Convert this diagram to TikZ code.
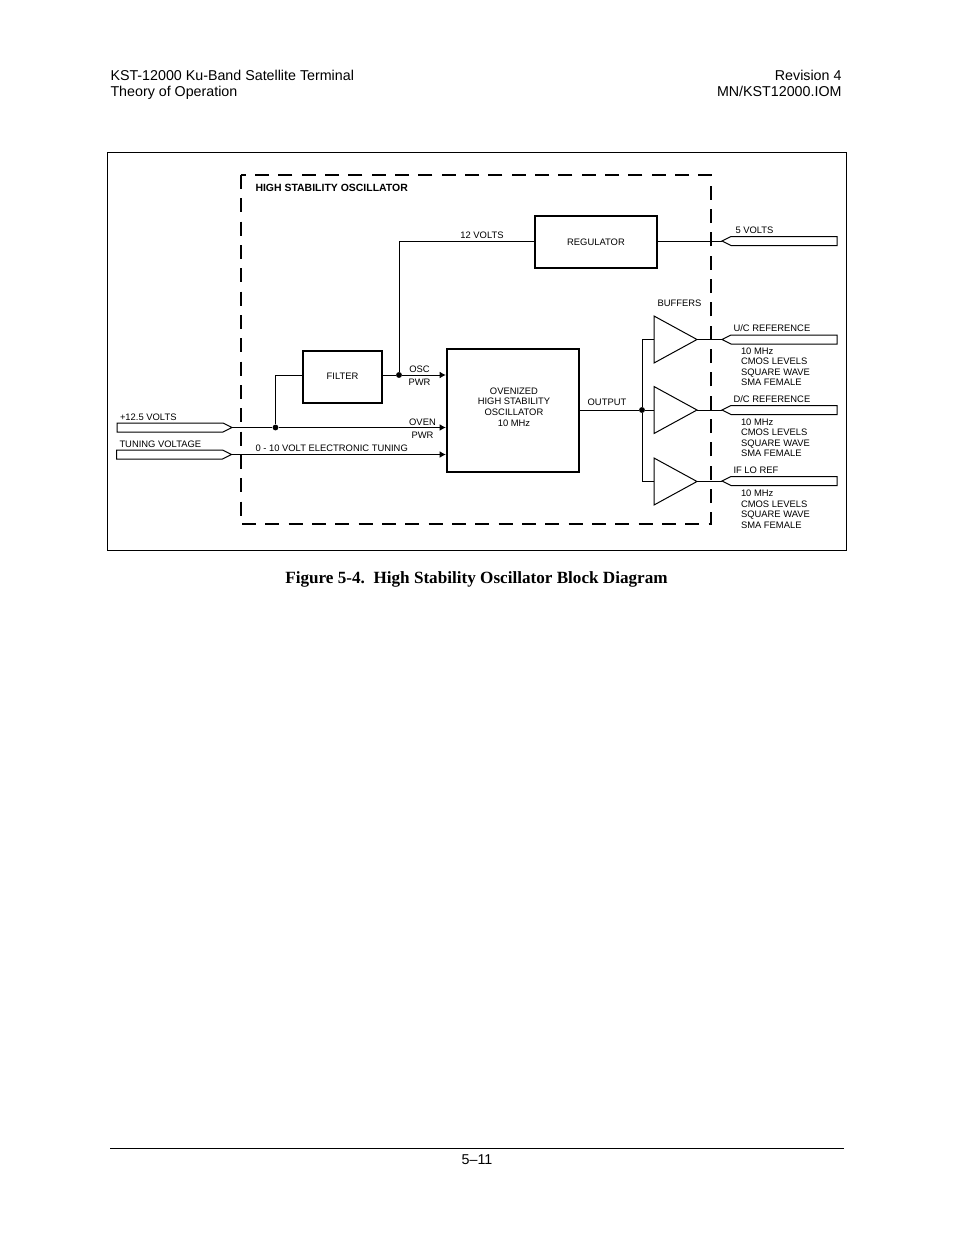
\documentclass[tikz,border=0pt]{standalone}
\usepackage{fontspec}
\setmainfont{Liberation Sans}
\newfontfamily\captionfont{Liberation Serif}
\usetikzlibrary{arrows.meta,shapes.geometric,shapes.symbols}

\tikzset{
  small text/.style={font=\fontsize{7.05}{7.9}\selectfont,inner sep=0pt,align=left},
  page text/.style={font=\fontsize{10.7}{12}\selectfont,inner sep=0pt},
  block/.style={draw,line width=1.5pt,minimum width=#1,inner sep=0pt,font=\fontsize{7.05}{7.9}\selectfont,align=center},
  port/.style={draw,shape=signal,signal to=#1,signal pointer angle=53,minimum width=86.25pt,
    minimum height=6.75pt,inner sep=0pt,outer sep=0pt,line width=0.75pt},
  buffer/.style={draw,shape=isosceles triangle,isosceles triangle stretches,minimum width=35.25pt,
    minimum height=32.25pt,inner sep=0pt,outer sep=0pt,anchor=lower side,line width=0.75pt},
  junction/.style={circle,fill,inner sep=0pt,minimum size=4.4pt}
}

\begin{document}
\begin{tikzpicture}[x=0.75pt,y=-0.75pt,->,>={Latex[length=4.6pt,width=5pt]},line width=0.75pt]

  \useasboundingbox (0,0) rectangle (954,1235);

  \node[page text,anchor=base west] (head1) at (110, 80)
    {KST-12000 Ku-Band Satellite Terminal};
  \node[page text,anchor=base west] (head2) at (110, 96)
    {Theory of Operation};
  \node[page text,anchor=base east] (head3) at (842, 80)
    {Revision 4};
  \node[page text,anchor=base east] (head4) at (842, 96)
    {MN/KST12000.IOM};

  \draw[-] (107.5,152.5) rectangle (846.5,550.5);
  \draw[-,line width=1.4pt,dash pattern=on 10.5pt off 7pt]
    (241,175) rectangle (711,524);

  \node[small text,anchor=west,font=\fontsize{7.85}{8}\selectfont\bfseries] (title) at (255, 188)
    {HIGH STABILITY OSCILLATOR};

  \node[block=92pt,minimum height=39pt] (regulator) at (596, 242)
    {REGULATOR};
  \node[block=59pt,minimum height=39pt,text depth=1.5pt] (filter) at (342.5, 377)
    {FILTER};
  \node[block=99.25pt,minimum height=92pt] (oscillator) at (513, 410.5) {};
  \node[small text,align=center] (oscillatortext) at (514, 407)
    {OVENIZED\\HIGH STABILITY\\OSCILLATOR\\10 MHz};

  \node[buffer] (buf1) at (654, 339.5) {};
  \node[buffer] (buf2) at (654, 410) {};
  \node[buffer] (buf3) at (654, 481.5) {};

  \node[port=east,anchor=east] (supply) at (232, 427.5) {};
  \node[port=east,anchor=east] (tuning) at (231.5, 454.5) {};
  \node[port=west,anchor=west] (fivev) at (722, 241) {};
  \node[port=west,anchor=west] (upref) at (722, 339.5) {};
  \node[port=west,anchor=west] (downref) at (722, 410) {};
  \node[port=west,anchor=west] (loref) at (722, 481) {};

  \node[junction] (supplydot) at (275.5, 427.5) {};
  \node[junction] (oscdot) at (399, 375) {};
  \node[junction] (busdot) at (642, 410) {};

  \draw[-] (supply.east) -- (supplydot);
  \draw[-] (supplydot) |- (filter.west |- oscdot);
  \draw[-] (filter.east |- oscdot) -- (oscdot);
  \draw[-] (oscdot) |- (regulator.west |- fivev.west);
  \draw (oscdot) -- (oscdot -| oscillator.west);
  \draw (supplydot) -- (supplydot -| oscillator.west);
  \draw (tuning.east) -- (tuning.east -| oscillator.west);
  \draw[-] (regulator.east |- fivev.west) -- (fivev.west);
  \draw[-] (oscillator.east |- busdot) -- (busdot);
  \draw[-] (busdot) -- (buf2.lower side);
  \draw[-] (buf1.lower side) -| (busdot);
  \draw[-] (buf3.lower side) -| (busdot);
  \draw[-] (buf1.apex) -- (upref.west);
  \draw[-] (buf2.apex) -- (downref.west);
  \draw[-] (buf3.apex) -- (buf3.apex -| loref.west);

  \node[small text,anchor=west] (supplytext) at (119.5, 417) {+12.5 VOLTS};
  \node[small text,anchor=west] (tuningtext) at (119, 444) {TUNING VOLTAGE};
  \node[small text,anchor=west] (rangetext) at (255, 448) {0 - 10 VOLT ELECTRONIC TUNING};
  \node[small text,align=center] (osctext) at (419.5, 375.5)
    {OSC\\[2.2pt]PWR};
  \node[small text,align=center] (oventext) at (422.5, 428.5)
    {OVEN\\[2.2pt]PWR};
  \node[small text] (twelvetext) at (482, 235) {12 VOLTS};
  \node[small text] (outputtext) at (607, 402) {OUTPUT};
  \node[small text] (bufferstext) at (679.5, 303) {BUFFERS};
  \node[small text,anchor=west] (fivetext) at (735, 230) {5 VOLTS};
  \node[small text,anchor=west] (uptext) at (733, 328) {U/C REFERENCE};
  \node[small text,anchor=west] (downtext) at (733, 399) {D/C REFERENCE};
  \node[small text,anchor=west] (lotext) at (733, 470) {IF LO REF};
  \node[small text,anchor=north west] (upinfo) at (740.5, 347)
    {10 MHz\\CMOS LEVELS\\SQUARE WAVE\\SMA FEMALE};
  \node[small text,anchor=north west] (downinfo) at (740.5, 418)
    {10 MHz\\CMOS LEVELS\\SQUARE WAVE\\SMA FEMALE};
  \node[small text,anchor=north west] (loinfo) at (740.5, 489.5)
    {10 MHz\\CMOS LEVELS\\SQUARE WAVE\\SMA FEMALE};

  \node[inner sep=0pt,anchor=base,font=\captionfont\fontsize{12.85}{16}\selectfont\bfseries] (caption) at (476.5, 583.5)
    {Figure 5-4.\ \ High Stability Oscillator Block Diagram};

  \coordinate (footleft) at (110, 1148.5);
  \coordinate (footright) at (844, 1148.5);
  \draw[-,line width=1.1pt] (footleft) -- (footright);
  \node[page text,anchor=base] (pagenum) at (477, 1164) {5--11};

\end{tikzpicture}
\end{document}
